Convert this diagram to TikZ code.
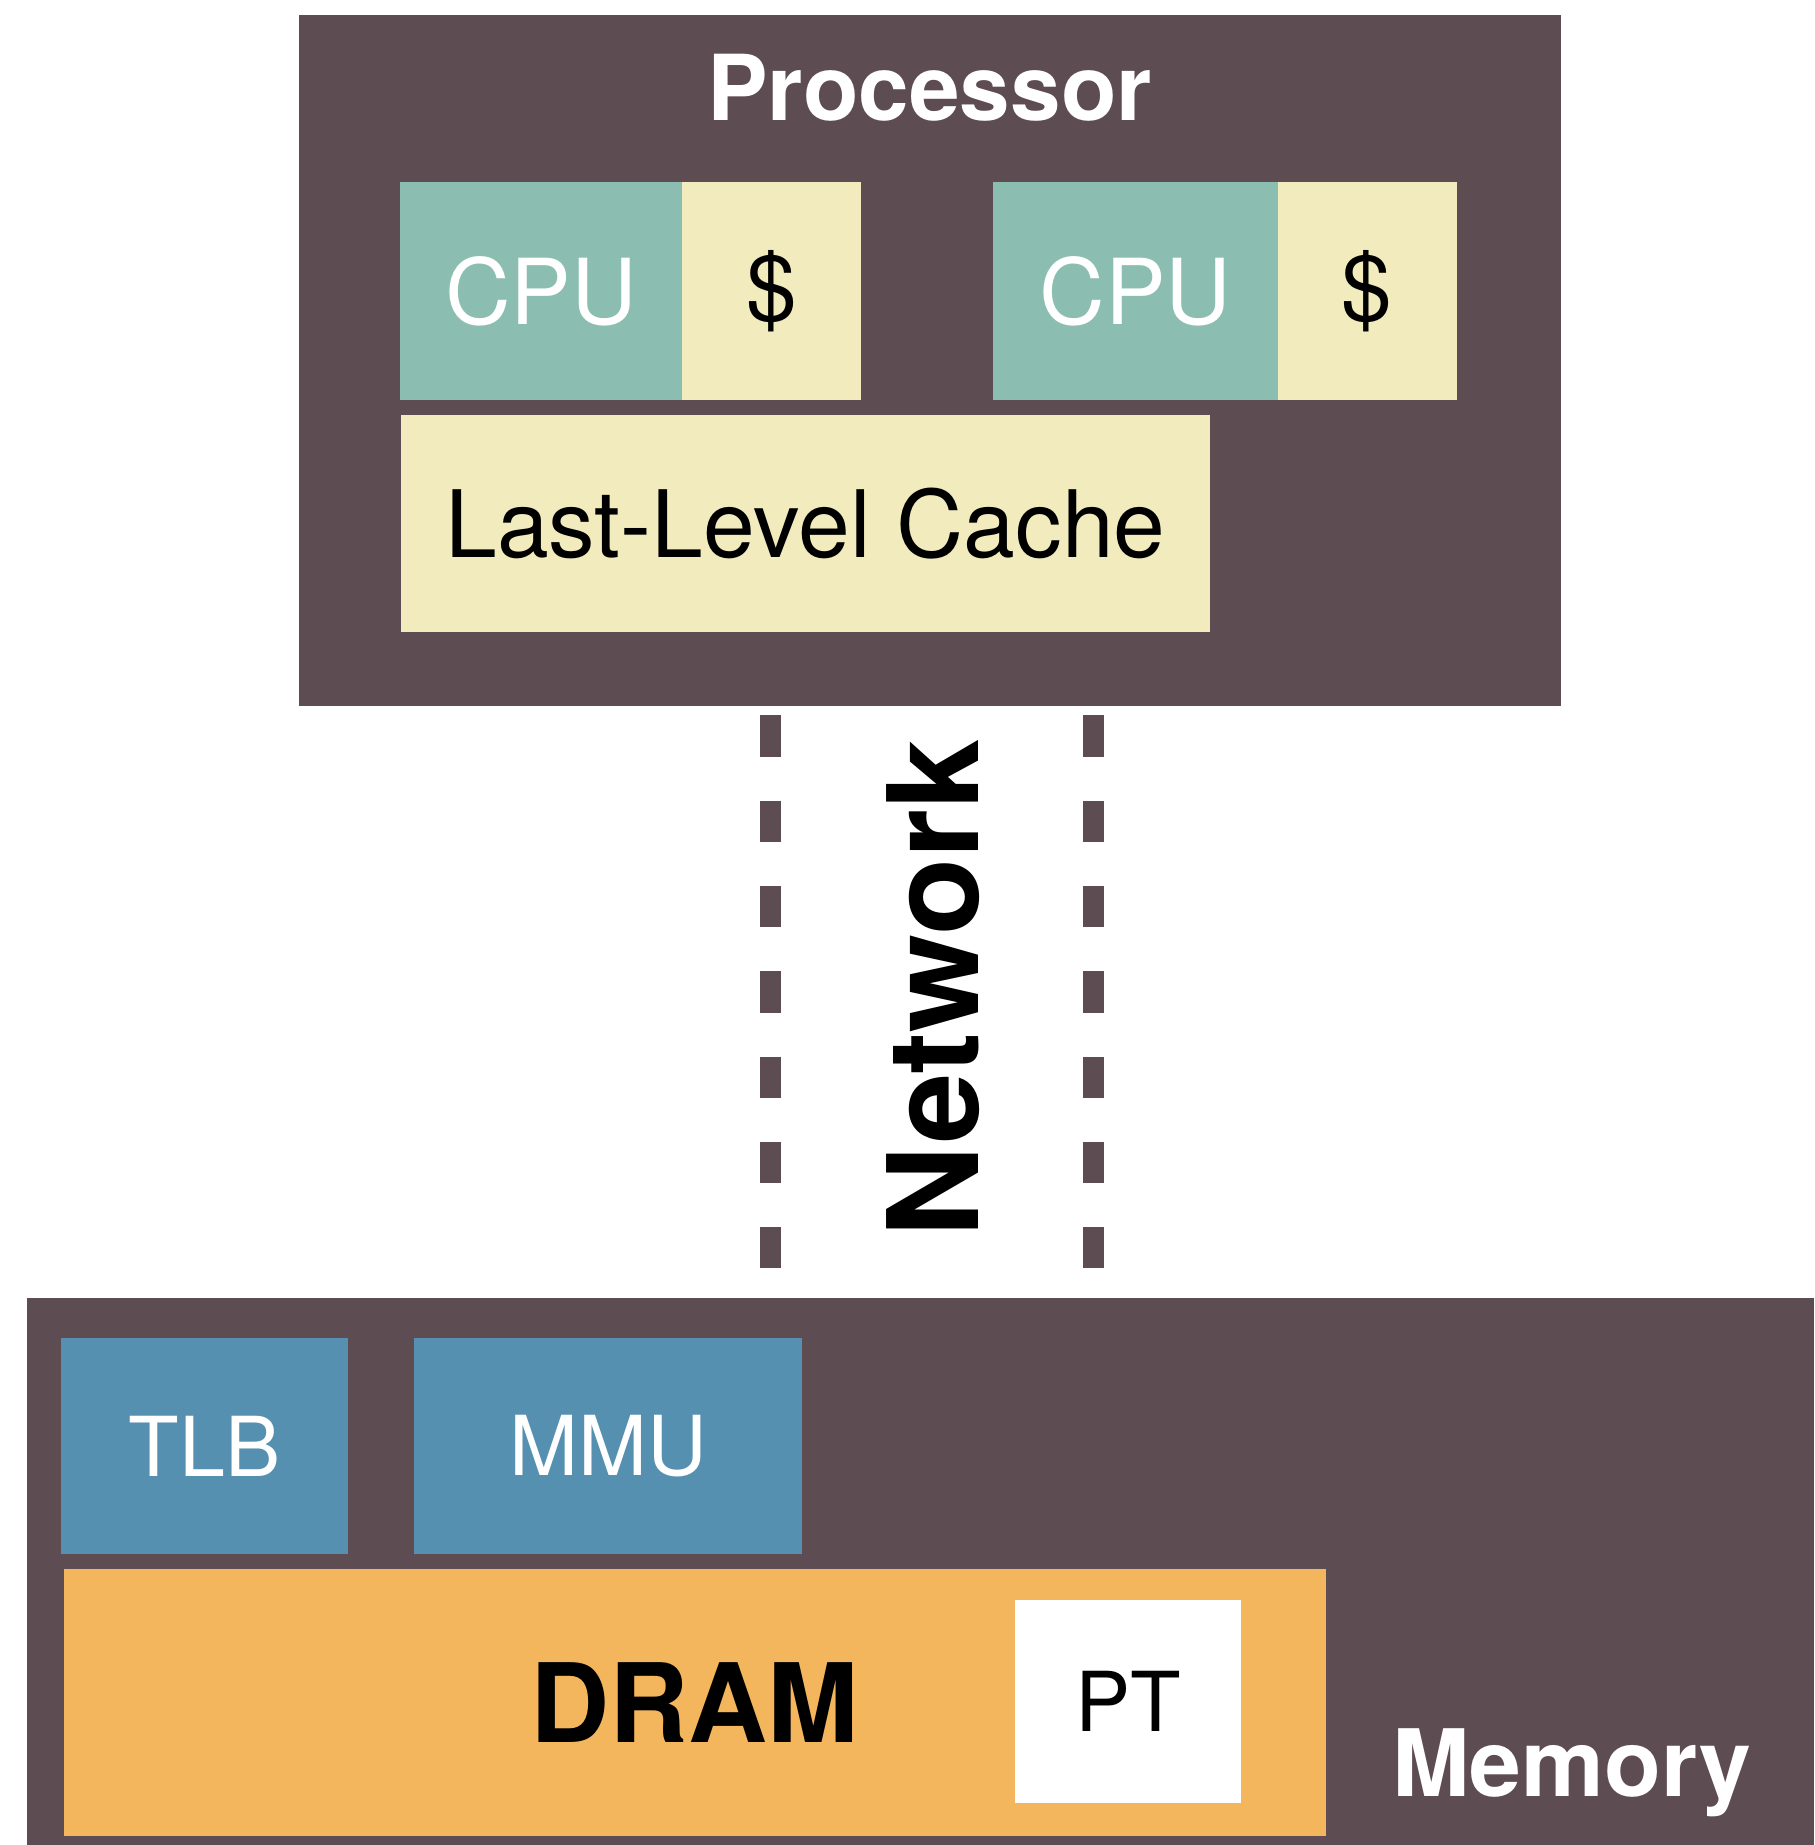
\documentclass[tikz,border=0pt]{standalone}
\usepackage{fontspec}
\setmainfont{TeX Gyre Heros}
\usepackage{tikz}
\usetikzlibrary{positioning}

\definecolor{plum}{HTML}{5E4C53}
\definecolor{teal}{HTML}{8BBDB1}
\definecolor{cream}{HTML}{F1EBBD}
\definecolor{steel}{HTML}{5590B0}
\definecolor{amber}{HTML}{F4B65C}

\begin{document}
\begin{tikzpicture}[
    x=0.1mm, y=-0.1mm,
    box/.style={anchor=north west, inner sep=0pt, outer sep=0pt, minimum height=18.5mm},
    frame/.style={box, fill=plum},
    cpu/.style={box, fill=teal, text=white, font=\fontsize{22}{26}\selectfont},
    cache/.style={box, fill=cream, font=\fontsize{22}{26}\selectfont},
    unit/.style={box, fill=steel, text=white, minimum height=18.4mm, font=\fontsize{20}{24}\selectfont},
    title/.style={text=white, inner sep=0pt, anchor=base, font=\bfseries\fontsize{22}{26}\selectfont},
    link/.style={draw=plum, line width=1.8mm, dash pattern=on 3.5mm off 3.75mm}
]
    \useasboundingbox (0,0) rectangle (1542,1568);

    % processor side
    \node[frame, minimum width=107.3mm, minimum height=58.7mm] (proc) at (254,13) {};
    \node[title] (proctitle) at (790,102) {Processor};
    \node[cpu, minimum width=24mm] (cpua) at (340,155) {CPU};
    \node[cache, minimum width=15.2mm] (cachea) at (580,155) {\$};
    \node[cpu, minimum width=24.2mm] (cpub) at (844,155) {CPU};
    \node[cache, minimum width=15.2mm] (cacheb) at (1086,155) {\$};
    \node[cache, minimum width=68.7mm, minimum height=18.4mm,
          font=\fontsize{22.5}{27}\selectfont] (llc) at (341,353) {Last-Level Cache};

    % network
    \coordinate (neta) at (655,608);
    \coordinate (neta') at (655,1080);
    \coordinate (netb) at (929,608);
    \coordinate (netb') at (929,1080);
    \draw[link] (neta) -- (neta');
    \draw[link] (netb) -- (netb');
    \node[rotate=90, inner sep=0pt, font=\bfseries\fontsize{30.5}{36}\selectfont] (net) at (793,840) {Network};

    % memory side
    \node[frame, minimum width=151.9mm, minimum height=46.5mm] (mem) at (23,1103) {};
    \node[unit, minimum width=24.4mm] (tlb) at (52,1137) {TLB};
    \node[unit, minimum width=33mm] (mmu) at (352,1137) {MMU};
    \node[box, fill=amber, minimum width=107.3mm, minimum height=22.7mm,
          font=\bfseries\fontsize{26.5}{32}\selectfont] (dram) at (54,1333) {DRAM};
    \node[box, fill=white, minimum width=19.2mm, minimum height=17.2mm,
          font=\fontsize{20}{24}\selectfont] (pt) at (863,1360) {PT};
    \node[title, font=\bfseries\fontsize{22.5}{27}\selectfont] (memtitle) at (1336,1527) {Memory};
\end{tikzpicture}
\end{document}
